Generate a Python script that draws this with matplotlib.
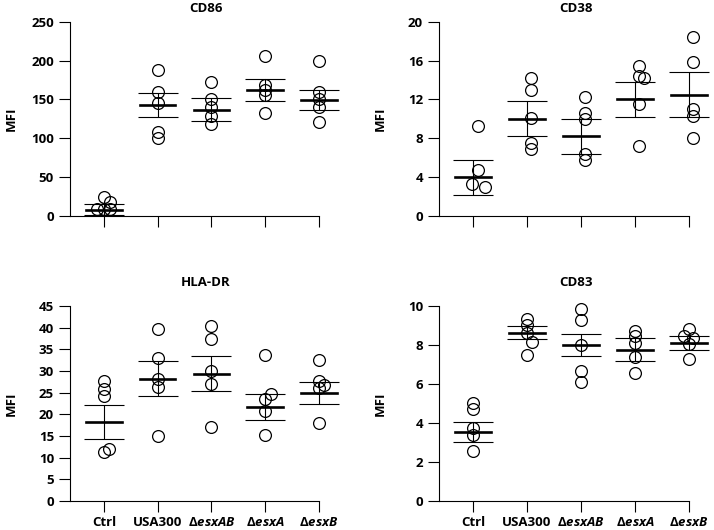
import matplotlib.pyplot as plt

plt.rcParams['font.family'] = ['Open Sans', 'DejaVu Sans']
plt.rcParams['font.weight'] = 'bold'
plt.rcParams['mathtext.fontset'] = 'custom'
plt.rcParams['mathtext.rm'] = 'Open Sans'
plt.rcParams['mathtext.it'] = 'Open Sans:italic'
plt.rcParams['mathtext.bf'] = 'Open Sans:bold'
plt.rcParams['mathtext.bfit'] = 'Open Sans:italic:bold'

# groups
groups = ['Ctrl', 'USA300', r'$\Delta\mathbfit{esxAB}$', r'$\Delta\mathbfit{esxA}$', r'$\Delta\mathbfit{esxB}$']

# CD86
cd86_values = [[24.5, 17.5, 8.5, 8.5, 8.5],
               [188, 159.5, 145, 108.5, 101],
               [173, 151, 140, 129, 118],
               [206, 168.5, 162, 155.7, 132.5],
               [199, 160, 150, 140, 120.5]]
cd86_mean = [8, 142.8, 136.8, 161.7, 149.2]
cd86_sem = [7, 15, 14.6, 14, 12.5]

# CD38
cd38_values = [[9.3, 4.7, 3.3, 2.95],
               [14.17, 13.0, 10.05, 7.55, 6.9],
               [12.25, 10.57, 10.0, 6.4, 5.8],
               [15.44, 14.44, 14.2, 11.56, 7.17],
               [18.46, 15.9, 10.98, 10.3, 8.0]]
cd38_mean = [4.0, 10.0, 8.23, 12.0, 12.49]
cd38_sem = [1.8, 1.8, 1.8, 1.8, 2.3]

# HLA-DR
hla_values = [[27.7, 25.8, 24.3, 11.9, 11.25],
              [39.75, 33, 28.1, 26.4, 15.0],
              [40.4, 37.3, 29.9, 27.0, 17.0],
              [33.7, 24.7, 23.6, 20.8, 15.2],
              [32.5, 27.8, 26.8, 26.0, 17.9]]
hla_mean = [18.26, 28.2, 29.4, 21.6, 25.0]
hla_sem = [4.0, 4.0, 4.0, 3.0, 2.5]

# CD83
cd83_values = [[5.05, 4.74, 3.73, 3.39, 2.57],
               [9.35, 9.05, 8.6, 8.15, 7.47],
               [9.85, 9.26, 7.98, 6.68, 6.10],
               [8.72, 8.48, 8.08, 7.40, 6.54],
               [8.82, 8.48, 8.34, 8.07, 7.28]]
cd83_mean = [3.53, 8.63, 7.98, 7.76, 8.08]
cd83_sem = [0.52, 0.34, 0.56, 0.6, 0.36]

# horizontal offsets of the circles (layout)
cd86_offsets = [[0, 0.12, -0.12, 0, 0.12], [0] * 5, [0] * 5, [0] * 5, [0] * 5]
cd38_offsets = [[0.09, 0.09, -0.01, 0.23], [0.08] * 5, [0.08] * 5,
                [0.07, 0.07, 0.16, 0.07, 0.07], [0.07] * 5]
hla_offsets = [[0, 0, 0, 0.1, 0], [0] * 5, [0] * 5, [0, 0.1, 0, 0, 0], [0, 0, 0.1, 0, 0]]
cd83_offsets = [[0] * 5, [0, 0, 0, 0.1, 0], [0] * 5, [0] * 5, [0, -0.1, 0.08, 0, 0]]

W, H = 714, 530
fig = plt.figure(figsize=(W / 100, H / 100), dpi=100)

panels = [
    ('CD86', cd86_values, cd86_mean, cd86_sem, cd86_offsets, range(0, 251, 50), (70, 21.7, 319, 216), (206, 8), False),
    ('CD38', cd38_values, cd38_mean, cd38_sem, cd38_offsets, range(0, 21, 4), (439, 21.7, 689, 216), (576, 8), False),
    ('HLA-DR', hla_values, hla_mean, hla_sem, hla_offsets, range(0, 46, 5), (70, 306, 319, 501), (206, 282), True),
    ('CD83', cd83_values, cd83_mean, cd83_sem, cd83_offsets, range(0, 11, 2), (439, 306, 689, 501), (576, 282), True),
]

for title, values, mean, sem, offsets, yticks, box, tpos, show_labels in panels:
    x0, y0, x1, y1 = box
    ax = fig.add_axes([x0 / W, 1 - y1 / H, (x1 - x0) / W, (y1 - y0) / H])

    for i in range(len(groups)):
        xs = [i + o for o in offsets[i]]
        ax.plot(xs, values[i], 'o', ms=8.5, mfc='none', mec='black', mew=0.9, clip_on=False)
        ax.plot([i - 0.33, i + 0.33], [mean[i], mean[i]], color='black', lw=1.9, clip_on=False)
        ax.errorbar(i, mean[i], yerr=sem[i], fmt='none', ecolor='black', elinewidth=0.8,
                    capsize=14.5, capthick=0.8, clip_on=False)

    ax.set_xlim(-0.63, 4)
    ax.set_ylim(0, yticks[-1])
    ax.set_yticks(list(yticks))
    ax.set_xticks(range(len(groups)))
    if show_labels:
        ax.set_xticklabels(groups)
    else:
        ax.set_xticklabels([])

    ax.spines['top'].set_visible(False)
    ax.spines['right'].set_visible(False)
    ax.spines['left'].set_linewidth(0.8)
    ax.spines['bottom'].set_linewidth(0.8)
    ax.tick_params(direction='out', length=8, width=0.8, labelsize=9.5, pad=3.5)
    ax.tick_params(axis='x', labelsize=9.5, pad=3)

    ax.set_ylabel('MFI', fontsize=9.5, fontweight='bold')
    ax.yaxis.set_label_coords(-0.21, 0.5)
    fig.text(tpos[0] / W, 1 - tpos[1] / H, title, ha='center', va='center', fontsize=9.5, fontweight='bold')

fig.savefig('out.png', dpi=100)
